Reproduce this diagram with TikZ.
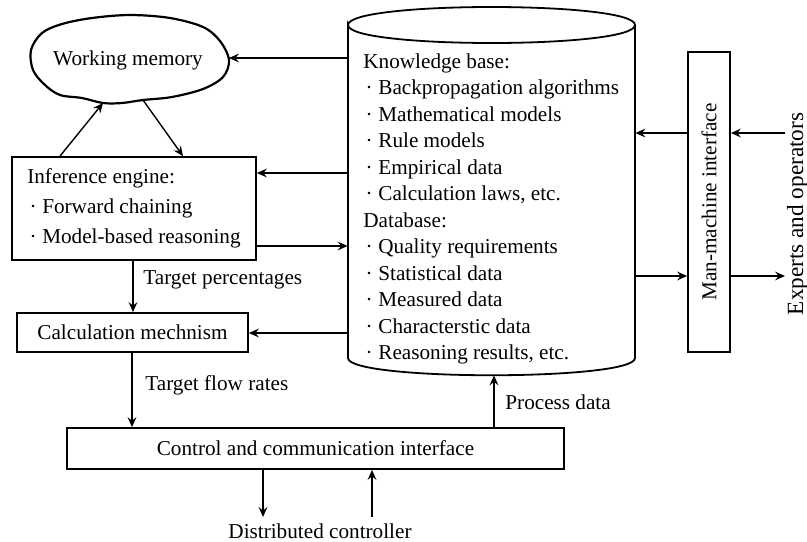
\documentclass[tikz,border=0pt]{standalone}
\usepackage{fontspec}
\setmainfont{Liberation Serif}
\usetikzlibrary{arrows.meta}
\newcommand{\bul}{\makebox[7.5pt][l]{\hspace{1.1pt}·}}
\begin{document}
\begin{tikzpicture}[x=0.5pt,y=-0.5pt,
  every node/.style={font=\fontsize{10.6}{13.25}\selectfont},
  box/.style={draw, line width=0.9pt, inner sep=0pt},
  conn/.style={line width=0.7pt, -{Stealth[length=5pt,width=4.4pt,inset=1.8pt]}},
  lbl/.style={inner sep=0pt, anchor=west},
]
\useasboundingbox (0,0) rectangle (807,541);

% working memory cloud
\draw[line width=1.1pt] plot[smooth cycle, tension=0.55] coordinates {(31,50) (42,33) (62,24) (92,18) (130,15) (170,18) (203,27) (220,41) (229,60) (223,77) (203,89) (172,97) (143,100) (122,103) (103,103) (82,98) (60,95) (45,85) (33,70)};
\node (wm) at (128,60) {Working memory};
\coordinate (wmR) at (229,58);
\coordinate (wmB1) at (103,103);
\coordinate (wmB2) at (143,100);

% cylinder (knowledge base / database)
\node[minimum width=143.5pt, minimum height=184pt, inner sep=0pt] (kb) at (491.5,191) {};
\draw[line width=0.9pt] (348,25) .. controls (348,1) and (635,1) .. (635,25)
  .. controls (635,49) and (348,49) .. (348,25) -- (348,358)
  .. controls (348,381) and (635,381) .. (635,358) -- (635,25);
\node[anchor=north west, align=left, inner sep=0pt] (kbt) at (363,53) {Knowledge base:\\
\bul Backpropagation algorithms\\
\bul Mathematical models\\
\bul Rule models\\
\bul Empirical data\\
\bul Calculation laws, etc.\\
Database:\\
\bul Quality requirements\\
\bul Statistical data\\
\bul Measured data\\
\bul Characterstic data\\
\bul Reasoning results, etc.};

% boxes
\node[box, minimum width=122pt, minimum height=51.5pt, align=left, font=\fontsize{10.6}{15}\selectfont] (ie) at (134,208.5) {Inference engine:\\ \bul Forward chaining\\ \bul Model-based reasoning};
\node[box, minimum width=115.5pt, minimum height=19.5pt] (calc) at (132.5,332.5) {Calculation mechnism};
\node[box, minimum width=248.5pt, minimum height=20.5pt] (ctrl) at (315.5,448.5) {Control and communication interface};
\node[box, minimum width=150pt, minimum height=21pt, rotate=90] (mmi) at (709,202) {Man-machine interface};

% external labels
\node[rotate=90, inner sep=0pt, font=\fontsize{11.6}{14}\selectfont] (exp) at (797.5,214) {Experts and operators};
\node[inner sep=0pt] (dc) at (320,531.5) {Distributed controller};
\node[lbl] (tp) at (143,280) {Target percentages};
\node[lbl] (tf) at (145,385) {Target flow rates};
\node[lbl] (pd) at (505,402) {Process data};

\coordinate (expA) at (785,133);
\coordinate (expB) at (785,276);
\coordinate (dcA) at (263,517);
\coordinate (dcB) at (372,517);

% connectors
\draw[conn] (kb.west |- wmR) -- (wmR);
\draw[conn] (ie.north -| 60,0) -- (wmB1);
\draw[conn] (wmB2) -- (ie.north -| 183,0);
\draw[conn] (kb.west |- 0,173) -- (ie.east |- 0,173);
\draw[conn] (ie.east |- 0,246) -- (kb.west |- 0,246);
\draw[conn] (ie.south -| 133,0) -- (calc.north -| 133,0);
\draw[conn] (kb.west |- 0,333) -- (calc.east |- 0,333);
\draw[conn] (calc.south -| 132,0) -- (ctrl.north -| 132,0);
\draw[conn] (ctrl.north -| 494,0) -- (kb.south -| 494,0);
\draw[conn] (mmi.north |- expA) -- (kb.east |- expA);
\draw[conn] (expA) -- (mmi.south |- expA);
\draw[conn] (kb.east |- expB) -- (mmi.north |- expB);
\draw[conn] (mmi.south |- expB) -- (expB);
\draw[conn] (ctrl.south -| dcA) -- (dcA);
\draw[conn] (dcB) -- (ctrl.south -| dcB);
\end{tikzpicture}
\end{document}
